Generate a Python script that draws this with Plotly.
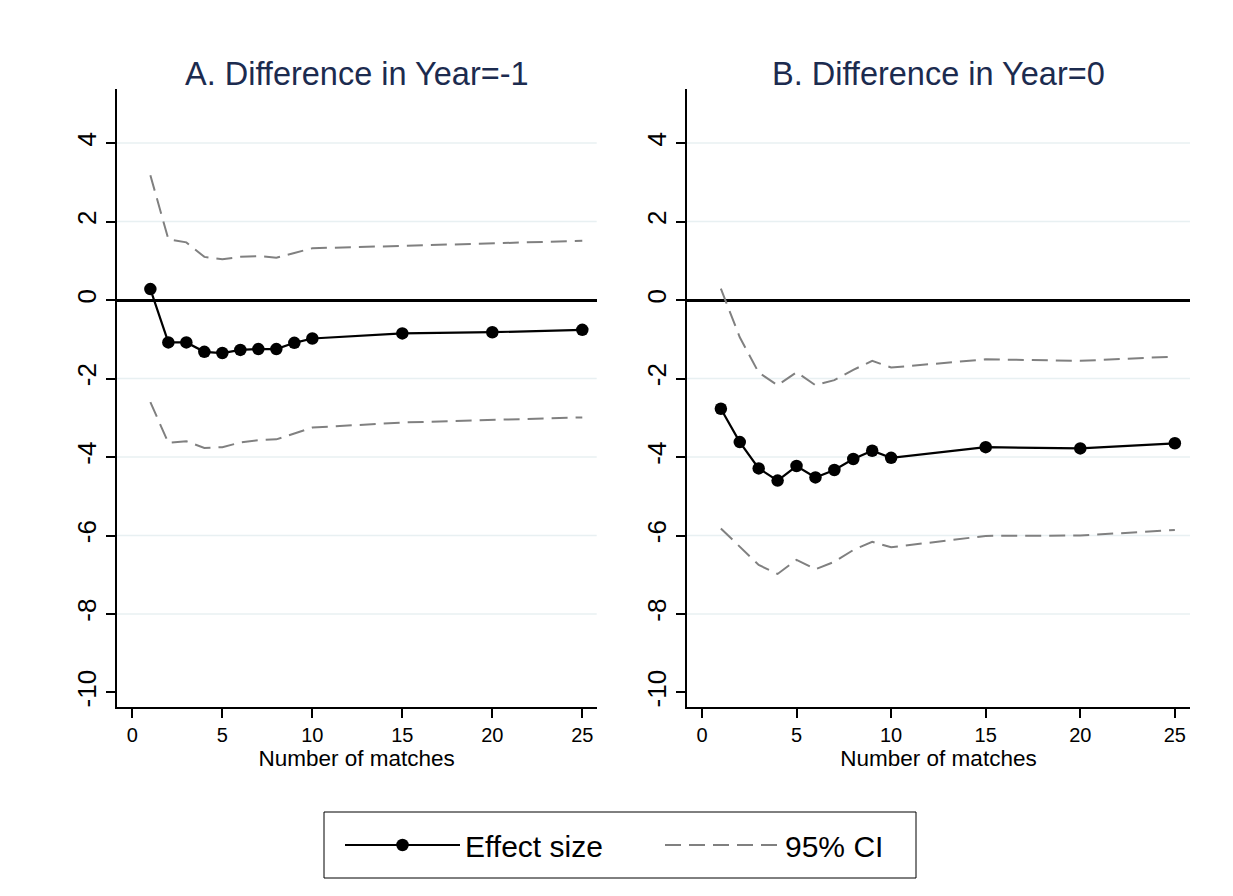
import plotly.graph_objects as go

# ---------------- data ----------------
matches = [1, 2, 3, 4, 5, 6, 7, 8, 9, 10, 15, 20, 25]

effect_a = [0.28, -1.08, -1.08, -1.32, -1.35, -1.27, -1.25, -1.25, -1.09, -0.98, -0.85, -0.82, -0.76]
upper_a = [3.18, 1.55, 1.47, 1.10, 1.04, 1.10, 1.12, 1.08, 1.20, 1.32, 1.38, 1.44, 1.51]
lower_a = [-2.60, -3.64, -3.60, -3.77, -3.75, -3.63, -3.57, -3.55, -3.40, -3.25, -3.12, -3.06, -2.99]

effect_b = [-2.77, -3.62, -4.29, -4.60, -4.23, -4.52, -4.33, -4.05, -3.84, -4.02, -3.75, -3.78, -3.65]
upper_b = [0.29, -0.95, -1.85, -2.17, -1.84, -2.17, -2.04, -1.78, -1.55, -1.72, -1.51, -1.55, -1.44]
lower_b = [-5.82, -6.28, -6.75, -6.98, -6.62, -6.86, -6.67, -6.37, -6.16, -6.30, -6.01, -6.00, -5.86]

panel_titles = ["A. Difference in Year=-1", "B. Difference in Year=0"]
x_ticks = [0, 5, 10, 15, 20, 25]
y_ticks = [-10, -8, -6, -4, -2, 0, 2, 4]
grid_values = [-8, -6, -4, -2, 2, 4]
x_title = "Number of matches"
legend_names = ["Effect size", "95% CI"]

# ---------------- styling / layout ----------------
OFF = 8                      # default page body margin
W, H = 1233 - 2 * OFF, 896 - 2 * OFF
FONT = "Liberation Sans, Arial, Helvetica, sans-serif"
CI_COLOR = "#808080"
GRID_COLOR = "#e8f0f2"
TITLE_COLOR = "#1c2b4f"


def px(x):
    return (x - OFF) / W


def py(y):
    return 1 - (y - OFF) / H


dom_a = [px(116.7), px(596.7)]
dom_b = [px(687.0), px(1190.0)]
dom_y = [py(707.0), py(89.3)]

fig = go.Figure()

panels = [
    ("x", "y", effect_a, upper_a, lower_a, True),
    ("x2", "y2", effect_b, upper_b, lower_b, False),
]

for xa, ya, eff, up, lo, show in panels:
    fig.add_trace(go.Scatter(
        x=matches, y=eff, xaxis=xa, yaxis=ya, mode="lines+markers",
        line=dict(color="black", width=2.2),
        marker=dict(color="black", size=12.5, symbol="circle"),
        name=legend_names[0], legendgroup="eff", showlegend=show, legendrank=1,
    ))
    fig.add_trace(go.Scatter(
        x=matches, y=up, xaxis=xa, yaxis=ya, mode="lines",
        line=dict(color=CI_COLOR, width=2, dash="16px,8px"),
        name=legend_names[1], legendgroup="ci", showlegend=show, legendrank=2,
    ))
    fig.add_trace(go.Scatter(
        x=matches, y=lo, xaxis=xa, yaxis=ya, mode="lines",
        line=dict(color=CI_COLOR, width=2, dash="16px,8px"),
        name=legend_names[1], legendgroup="ci", showlegend=False,
    ))

# light gridlines
for xref, yref in [("x domain", "y"), ("x2 domain", "y2")]:
    for g in grid_values:
        fig.add_shape(type="line", xref=xref, yref=yref, x0=0, x1=1, y0=g, y1=g,
                      line=dict(color=GRID_COLOR, width=1.5), layer="below")

# legend frame
fig.add_shape(type="rect", xref="paper", yref="paper",
              x0=px(324), x1=px(916), y0=py(878), y1=py(812),
              line=dict(color="black", width=1), fillcolor="rgba(0,0,0,0)", layer="above")

axis_common = dict(
    showline=True, linecolor="black", linewidth=1.5, mirror=False,
    ticks="outside", ticklen=9, tickwidth=1.5, tickcolor="black",
    showgrid=False,
)
x_common = dict(
    tickvals=x_ticks, ticktext=[str(v) for v in x_ticks], zeroline=False,
    tickfont=dict(family=FONT, size=20, color="black"),
    title=dict(text=x_title, font=dict(family=FONT, size=22.5, color="black"), standoff=2),
    **axis_common,
)
y_common = dict(
    domain=dom_y, range=[-10.37, 5.37],
    tickvals=y_ticks, ticktext=[str(v) for v in y_ticks], tickangle=-90,
    tickfont=dict(family=FONT, size=26, color="black"),
    zeroline=True, zerolinecolor="black", zerolinewidth=2.5,
    **axis_common,
)

fig.update_layout(
    width=W, height=H,
    margin=dict(l=0, r=0, t=0, b=0),
    paper_bgcolor="white", plot_bgcolor="white",
    font=dict(family=FONT, color="black"),
    xaxis=dict(domain=dom_a, range=[-0.87, 25.8], anchor="y", **x_common),
    yaxis=dict(anchor="x", **y_common),
    xaxis2=dict(domain=dom_b, range=[-0.79, 25.8], anchor="y2", **x_common),
    yaxis2=dict(anchor="x2", **y_common),
    legend=dict(
        orientation="h", x=px(660), xanchor="center", y=py(845), yanchor="middle",
        borderwidth=0, bgcolor="rgba(0,0,0,0)",
        font=dict(family=FONT, size=30, color="black"),
        itemwidth=115, entrywidth=190, entrywidthmode="pixels", traceorder="normal",
    ),
)

for dom, t in zip([dom_a, dom_b], panel_titles):
    fig.add_annotation(
        text=t, x=(dom[0] + dom[1]) / 2, y=py(74), xref="paper", yref="paper",
        xanchor="center", yanchor="middle", showarrow=False,
        font=dict(family=FONT, size=32.5, color=TITLE_COLOR),
    )

fig.write_html("out.html")
